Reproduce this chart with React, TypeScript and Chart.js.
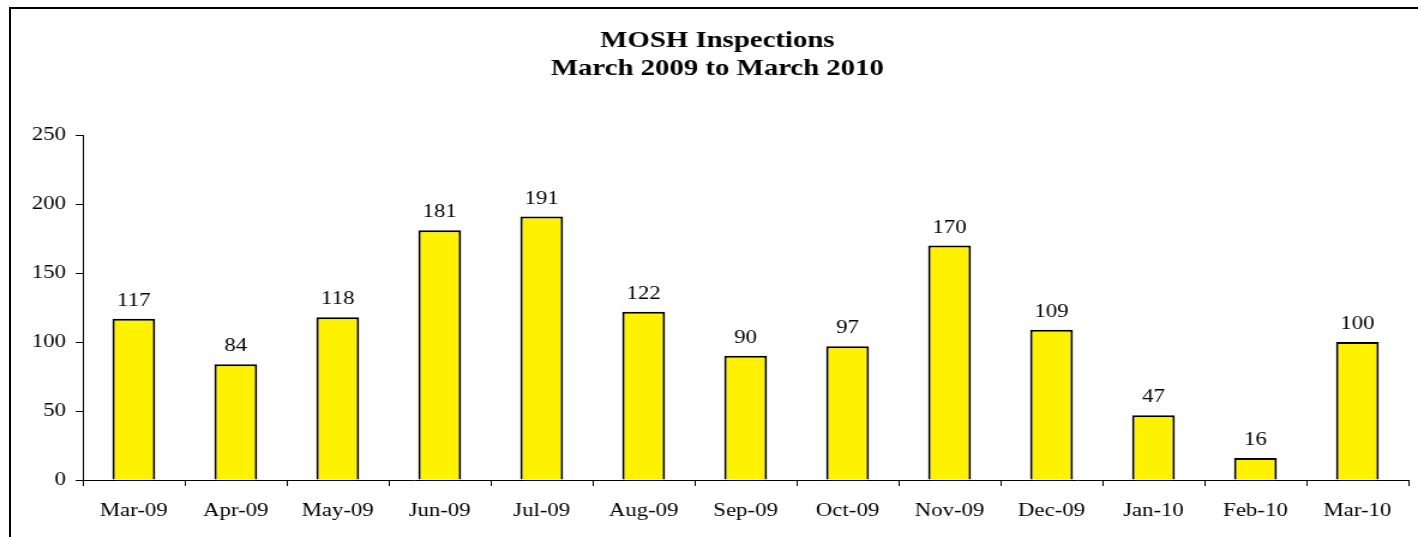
import React, { useEffect, useRef } from "react";
import { Chart, registerables } from "chart.js";

Chart.register(...registerables);

const categories = [
  "Mar-09", "Apr-09", "May-09", "Jun-09", "Jul-09", "Aug-09", "Sep-09",
  "Oct-09", "Nov-09", "Dec-09", "Jan-10", "Feb-10", "Mar-10",
];
const inspections = [117, 84, 118, 181, 191, 122, 90, 97, 170, 109, 47, 16, 100];
const titleLines = ["MOSH Inspections", "March 2009 to March 2010"];
const yMin = 0;
const yMax = 250;
const yStep = 50;

const FONT = "'Liberation Serif', 'Times New Roman', Times, serif";
const INTERNAL_W = 1182;
const H = 537;

const valueLabels = {
  id: "valueLabels",
  afterDatasetsDraw(chart: any) {
    const ctx = chart.ctx;
    const meta = chart.getDatasetMeta(0);
    const data = chart.data.datasets[0].data as number[];
    ctx.save();
    ctx.font = `19px ${FONT}`;
    ctx.fillStyle = "#000";
    ctx.textAlign = "center";
    ctx.textBaseline = "alphabetic";
    meta.data.forEach((bar: any, i: number) => {
      ctx.fillText(String(data[i]), bar.x, bar.y - 13);
    });
    ctx.restore();
  },
};

export default function App() {
  const ref = useRef<HTMLCanvasElement | null>(null);

  useEffect(() => {
    if (!ref.current) return;
    const chart = new Chart(ref.current, {
      type: "bar",
      data: {
        labels: categories,
        datasets: [
          {
            data: inspections,
            backgroundColor: "#FFF200",
            borderColor: "#000",
            borderWidth: 2,
            barPercentage: 0.42,
            categoryPercentage: 1,
          },
        ],
      },
      options: {
        responsive: false,
        devicePixelRatio: 1,
        animation: false,
        layout: { padding: { left: 22, right: 8, top: 0, bottom: 0 } },
        plugins: {
          legend: { display: false },
          tooltip: { enabled: false },
          title: {
            display: true,
            text: titleLines,
            color: "#000",
            font: { family: FONT, size: 24, weight: "bold", lineHeight: 1.15 },
            padding: { top: 27, bottom: 53 },
          },
        },
        scales: {
          x: {
            offset: true,
            grid: {
              offset: true,
              drawOnChartArea: false,
              drawTicks: true,
              tickLength: 6,
              color: "#000",
              lineWidth: 1,
            },
            border: { display: true, color: "#000", width: 1 },
            ticks: {
              color: "#000",
              font: { family: FONT, size: 19 },
              padding: 14,
              maxRotation: 0,
              autoSkip: false,
            },
            afterFit(scale: any) {
              scale.height = 57;
            },
          },
          y: {
            min: yMin,
            max: yMax,
            grid: {
              drawOnChartArea: false,
              drawTicks: true,
              tickLength: 6,
              color: "#000",
              lineWidth: 1,
            },
            border: { display: true, color: "#000", width: 1 },
            ticks: {
              stepSize: yStep,
              color: "#000",
              font: { family: FONT, size: 19 },
              padding: 8,
            },
            afterFit(scale: any) {
              scale.width = 47;
            },
          },
        },
      },
      plugins: [valueLabels],
    });
    return () => chart.destroy();
  }, []);

  return (
    <div
      style={{
        position: "absolute",
        left: 0,
        top: 0,
        width: 1418,
        height: H,
        background: "#fff",
        overflow: "hidden",
      }}
    >
      <canvas
        ref={ref}
        width={INTERNAL_W}
        height={H}
        style={{ width: "1418px", height: `${H}px`, display: "block" }}
      />
      <div
        style={{
          position: "absolute",
          left: 9,
          top: 7,
          right: 0,
          bottom: 0,
          borderLeft: "2px solid #000",
          borderTop: "2px solid #000",
          pointerEvents: "none",
        }}
      />
    </div>
  );
}
